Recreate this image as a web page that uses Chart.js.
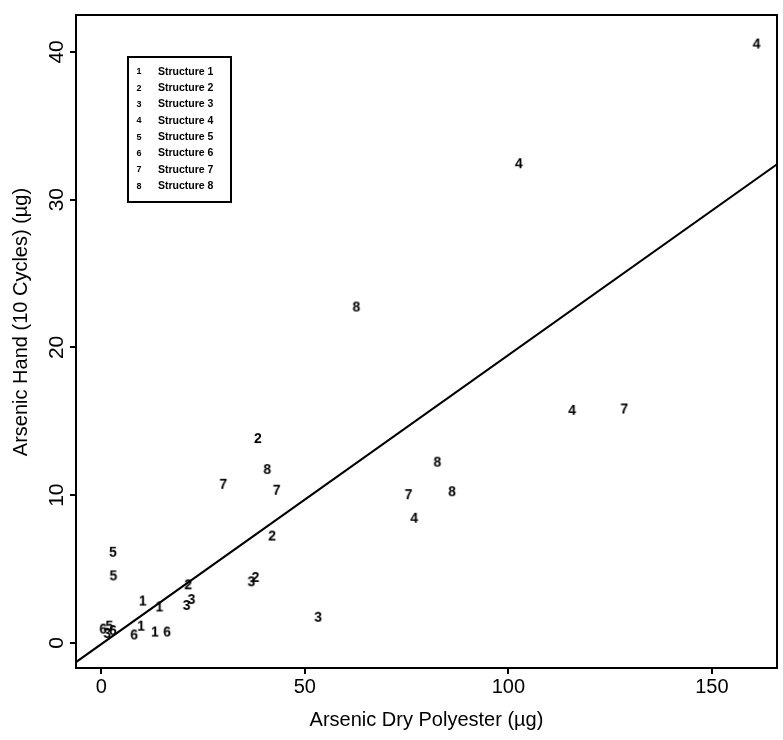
<!DOCTYPE html>
<html>
<head>
<meta charset="utf-8">
<title>Arsenic Hand vs Dry Polyester</title>
<script src="https://cdn.jsdelivr.net/npm/chart.js@4/dist/chart.umd.min.js"></script>
<style>
  html, body { margin: 0; padding: 0; background: #fff; }
  #wrap { width: 783px; height: 740px; }
</style>
</head>
<body>
<div id="wrap"><canvas id="chart" width="783" height="740"></canvas></div>
<script>
'use strict';

// axis ticks
const xTicks = [0, 50, 100, 150];
const yTicks = [0, 10, 20, 30, 40];

const xTitle = 'Arsenic Dry Polyester (\u00b5g)';
const yTitle = 'Arsenic Hand (10 Cycles) (\u00b5g)';

const structureLabels = ['Structure 1', 'Structure 2', 'Structure 3', 'Structure 4',
                         'Structure 5', 'Structure 6', 'Structure 7', 'Structure 8'];
const structureMarks = ['1', '2', '3', '4', '5', '6', '7', '8'];

// dry polyester (x) and hand (y) values per structure
const s1Dry = [10.2, 14.3, 9.8, 13.2];
const s1Hand = [2.8, 2.4, 1.1, 0.7];
const s2Dry = [38.5, 42.0, 37.9, 21.4];
const s2Hand = [13.8, 7.2, 4.4, 3.9];
const s3Dry = [53.3, 36.9, 21.0, 22.2, 1.5];
const s3Hand = [1.7, 4.1, 2.5, 2.9, 0.6];
const s4Dry = [161.0, 102.6, 115.7, 76.9];
const s4Hand = [40.5, 32.4, 15.7, 8.4];
const s5Dry = [2.9, 3.0, 2.0];
const s5Hand = [6.1, 4.5, 1.1];
const s6Dry = [0.5, 8.1, 16.2, 2.9];
const s6Hand = [0.9, 0.5, 0.7, 0.8];
const s7Dry = [30.0, 43.1, 128.5, 75.5];
const s7Hand = [10.7, 10.3, 15.8, 10.0];
const s8Dry = [62.7, 40.8, 82.6, 86.2];
const s8Hand = [22.7, 11.7, 12.2, 10.2];

// fitted line end points
const fitDry = [-6.2, 166];
const fitHand = [-1.3, 32.4];

const allDry = [s1Dry, s2Dry, s3Dry, s4Dry, s5Dry, s6Dry, s7Dry, s8Dry];
const allHand = [s1Hand, s2Hand, s3Hand, s4Hand, s5Hand, s6Hand, s7Hand, s8Hand];

const FONT = '"Liberation Sans", Arial, Helvetica, sans-serif';
Chart.defaults.font.family = FONT;
Chart.defaults.color = '#000';

// digit glyph used as the point marker
function digitMark(d, size) {
    const c = document.createElement('canvas');
    c.width = size + 2;
    c.height = size + 2;
    const g = c.getContext('2d');
    g.font = 'bold ' + size + 'px ' + FONT;
    g.fillStyle = '#000';
    g.textAlign = 'center';
    g.textBaseline = 'middle';
    g.fillText(d, c.width / 2, c.height / 2 + 0.5);
    return c;
}

function toPoints(xs, ys) {
    const pts = [];
    for (let i = 0; i < xs.length; i++) pts.push({ x: xs[i], y: ys[i] });
    return pts;
}

const datasets = structureLabels.map((name, i) => ({
    label: name,
    data: toPoints(allDry[i], allHand[i]),
    pointStyle: digitMark(structureMarks[i], 14),
    pointRadius: 5,
    showLine: false
}));

datasets.push({
    type: 'line',
    label: 'fit',
    data: toPoints(fitDry, fitHand),
    borderColor: '#000',
    borderWidth: 2,
    pointRadius: 0,
    fill: false,
    tension: 0
});

// frame, rotated y labels, y title and boxed legend
const framePlugin = {
    id: 'framePlugin',
    afterDraw(chart) {
        const ctx = chart.ctx;
        const a = chart.chartArea;
        const yScale = chart.scales.y;

        ctx.save();
        ctx.strokeStyle = '#000';
        ctx.lineWidth = 2;
        ctx.strokeRect(a.left, a.top, a.right - a.left, a.bottom - a.top);

        ctx.fillStyle = '#000';
        ctx.font = '21px ' + FONT;
        ctx.textAlign = 'center';
        ctx.textBaseline = 'alphabetic';
        yScale.ticks.forEach(t => {
            const py = yScale.getPixelForValue(t.value);
            ctx.save();
            ctx.translate(a.left - 13, py);
            ctx.rotate(-Math.PI / 2);
            ctx.fillText(String(t.value), 0, 0);
            ctx.restore();
        });

        ctx.font = '20px ' + FONT;
        ctx.save();
        ctx.translate(27, 322);
        ctx.rotate(-Math.PI / 2);
        ctx.fillText(yTitle, 0, 0);
        ctx.restore();

        // legend box
        const bx = a.left + 52, by = a.top + 42, bw = 103, bh = 145;
        ctx.lineWidth = 2;
        ctx.strokeRect(bx, by, bw, bh);
        ctx.textBaseline = 'middle';
        for (let i = 0; i < structureLabels.length; i++) {
            const ry = by + 15 + i * 16.3;
            ctx.font = 'bold 9px ' + FONT;
            ctx.textAlign = 'center';
            ctx.fillText(structureMarks[i], bx + 11, ry);
            ctx.font = 'bold 10.5px ' + FONT;
            ctx.textAlign = 'left';
            ctx.fillText(structureLabels[i], bx + 30, ry);
        }
        ctx.restore();
    }
};

const axisGrid = { drawOnChartArea: false, drawTicks: true, tickLength: 6, color: '#000', lineWidth: 2 };

new Chart(document.getElementById('chart').getContext('2d'), {
    type: 'scatter',
    data: { datasets: datasets },
    options: {
        responsive: false,
        animation: false,
        devicePixelRatio: 1,
        layout: { padding: { top: 11, right: 4, left: 0, bottom: 0 } },
        plugins: { legend: { display: false }, tooltip: { enabled: false } },
        scales: {
            x: {
                type: 'linear',
                min: -6.2,
                max: 166,
                afterBuildTicks: s => { s.ticks = xTicks.map(v => ({ value: v })); },
                afterFit: s => { s.height = 72; },
                ticks: { color: '#000', font: { size: 20 }, padding: 1, maxRotation: 0 },
                grid: axisGrid,
                border: { display: true, color: '#000', width: 2 },
                title: { display: true, text: xTitle, color: '#000', font: { size: 20 }, padding: { top: 0, bottom: 8 } }
            },
            y: {
                type: 'linear',
                min: -1.7,
                max: 42.5,
                afterBuildTicks: s => { s.ticks = yTicks.map(v => ({ value: v })); },
                afterFit: s => { s.width = 76; },
                ticks: { color: 'rgba(0,0,0,0)', font: { size: 20 } },
                grid: axisGrid,
                border: { display: true, color: '#000', width: 2 }
            }
        }
    },
    plugins: [framePlugin]
});
</script>
</body>
</html>
